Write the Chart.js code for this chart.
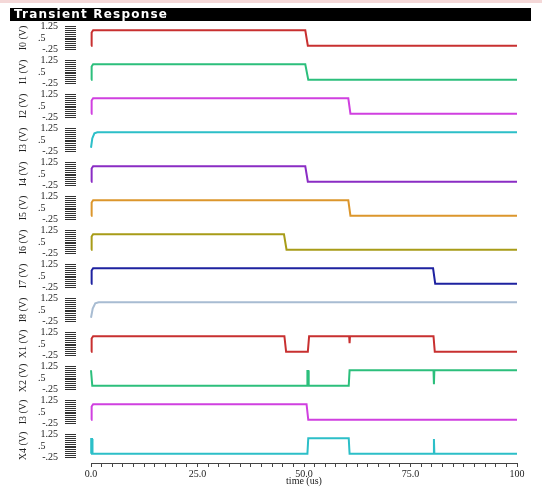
<!DOCTYPE html>
<html>
<head>
<meta charset="utf-8">
<script src="https://cdn.jsdelivr.net/npm/chart.js@4.4.1/dist/chart.umd.min.js"></script>
<style>
  html, body { margin: 0; padding: 0; background: #fff; }
  #wrap { position: relative; width: 542px; height: 488px; }
  #strip { position: absolute; left: 0; top: 0; width: 542px; height: 3px; background: #f4d8d8; }
  #head { position: absolute; left: 10px; top: 8px; width: 521px; height: 13px; background: #000; color: #fff;
          font: bold 12px "DejaVu Sans"; letter-spacing: 1.2px; line-height: 13px; padding-left: 4px; box-sizing: border-box; }
  canvas { position: absolute; left: 0; top: 0; }
</style>
</head>
<body>
<div id="wrap">
  <canvas id="myChart" width="542" height="488"></canvas>
  <div id="strip"></div>
  <div id="head">Transient Response</div>
</div>
<script>
// signal names, top to bottom
const signalNames = ['I0 (V)', 'I1 (V)', 'I2 (V)', 'I3 (V)', 'I4 (V)', 'I5 (V)', 'I6 (V)',
                     'I7 (V)', 'I8 (V)', 'X1 (V)', 'X2 (V)', 'I3 (V)', 'X4 (V)'];
const signalColors = ['#c83030', '#2cbf7c', '#d040e0', '#2cbfc8', '#8a2cc4', '#dc962c', '#a89c18',
                      '#1e22a0', '#a8bcd2', '#c83030', '#2cbf7c', '#d040e0', '#2cbfc8'];

// [time (us), volts]
const i0 = [[0,0],[0.15,0.85],[0.5,1],[50.3,1],[50.9,0],[100,0]];
const i1 = [[0,0],[0.15,0.85],[0.5,1],[50.3,1],[51,0],[100,0]];
const i2 = [[0,0],[0.15,0.85],[0.5,1],[60.4,1],[60.9,0],[100,0]];
const i3 = [[0,0],[0.3,0.6],[0.8,0.93],[1.5,1],[100,1]];
const i4 = [[0,0],[0.15,0.85],[0.5,1],[50.3,1],[50.9,0],[100,0]];
const i5 = [[0,0],[0.15,0.85],[0.5,1],[60.4,1],[60.9,0],[100,0]];
const i6 = [[0,0],[0.15,0.85],[0.5,1],[45.3,1],[45.9,0],[100,0]];
const i7 = [[0,0],[0.15,0.85],[0.5,1],[80.3,1],[80.8,0],[100,0]];
const i8 = [[0,0],[0.4,0.6],[1,0.93],[1.8,1],[100,1]];
const x1 = [[0,0],[0.15,0.85],[0.5,1],[45.4,1],[45.8,0],[50.9,0],[51.2,1],[60.6,1],[60.7,0.55],[60.8,1],[80.4,1],[80.7,0],[100,0]];
const x2 = [[0,1],[0.3,0],[50.75,0],[50.8,0.95],[51.05,0.95],[51.1,0],[60.5,0],[60.7,1],[80.4,1],[80.5,0.1],[80.6,1],[100,1]];
const x3 = [[0,0],[0.15,0.85],[0.5,1],[50.6,1],[51,0],[100,0]];
const x4 = [[0,0],[0.05,0.95],[0.25,0.95],[0.35,0],[50.8,0],[51,1],[60.5,1],[60.7,0],[80.4,0],[80.5,0.95],[80.6,0],[100,0]];
const signals = [i0, i1, i2, i3, i4, i5, i6, i7, i8, x1, x2, x3, x4];

// tick labels
const xTickValues = [0, 25, 50, 75, 100];
const xTickLabels = ['0.0', '25.0', '50.0', '75.0', '100'];
const yTickValues = [1.25, 0.5, -0.25];
const yTickLabels = ['1.25', '.5     ', '-.25'];

const serif = 'Liberation Serif';
const yMin = -0.597, yMax = 1.597;
const yMinorTicks = [];
for (let k = 0; k <= 12; k++) yMinorTicks.push(-0.25 + 0.125 * k);

const scales = {
    x: {
        type: 'linear', position: 'bottom', min: 0, max: 100,
        afterFit(s) { s.height = 25; },
        ticks: {
            stepSize: 2.5, autoSkip: false, maxRotation: 0, padding: 1, color: '#222',
            font: {family: serif, size: 10},
            callback(v) {
                const k = xTickValues.indexOf(v);
                return k >= 0 ? xTickLabels[k] : '';
            }
        },
        grid: {drawOnChartArea: false, tickLength: 4, color: '#444'},
        border: {display: true, color: '#444'},
        title: {display: true, text: 'time (us)', color: '#222', font: {family: serif, size: 10}, padding: {top: 0, bottom: 1}}
    }
};

const datasets = [];
signals.forEach((pts, i) => {
    const id = 'y' + i;
    scales[id] = {
        type: 'linear', position: 'left', stack: 'panels', stackWeight: 1, weight: 13 - i,
        min: yMin, max: yMax,
        afterFit(s) { s.width = 91; },
        afterBuildTicks(s) { s.ticks = yMinorTicks.map(v => ({value: v})); },
        ticks: {
            autoSkip: false, padding: 7, crossAlign: 'near', color: '#222',
            font: {family: serif, size: 10},
            callback(v) {
                const k = yTickValues.indexOf(v);
                return k >= 0 ? yTickLabels[k] : '';
            }
        },
        grid: {drawOnChartArea: false, tickLength: 26, tickBorderDash: [11, 40], color: '#333'},
        border: {display: false},
        title: {display: true, text: signalNames[i], color: '#222', font: {family: serif, size: 10}, padding: {top: 17, bottom: 0}}
    };
    datasets.push({
        data: pts.map(p => ({x: p[0], y: p[1]})),
        yAxisID: id,
        borderColor: signalColors[i],
        borderWidth: 2,
        pointRadius: 0,
        tension: 0,
        fill: false,
        clip: false
    });
});

new Chart(document.getElementById('myChart').getContext('2d'), {
    type: 'line',
    data: {datasets: datasets},
    options: {
        responsive: false,
        animation: false,
        layout: {padding: {top: 21, right: 25, left: 0, bottom: 0}},
        plugins: {legend: {display: false}, tooltip: {enabled: false}},
        scales: scales
    }
});
</script>
</body>
</html>
